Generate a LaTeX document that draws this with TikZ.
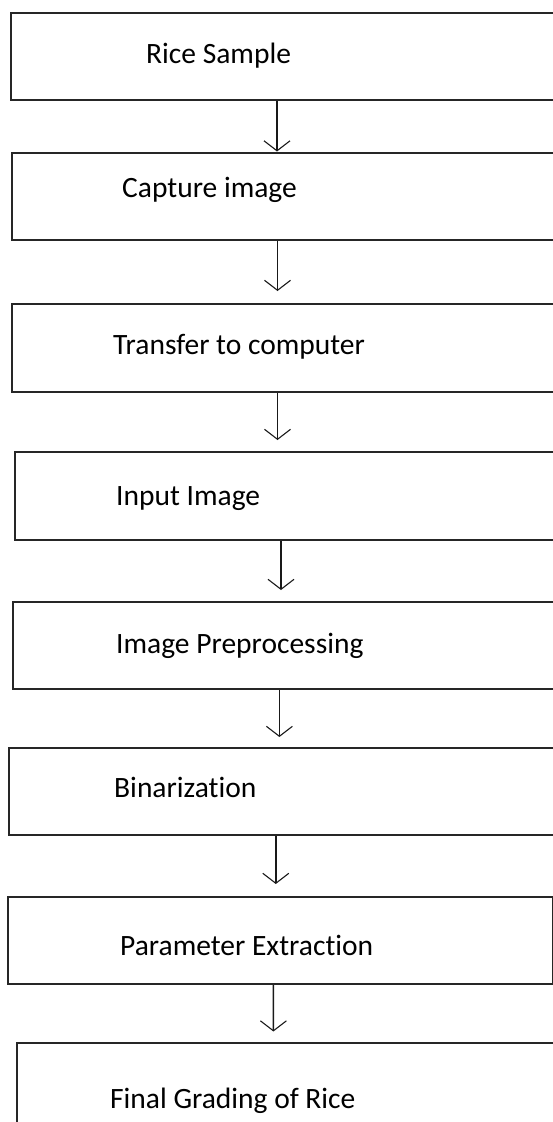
\documentclass[tikz,border=0pt]{standalone}
\usepackage{fontspec}
\setmainfont[Ligatures={NoCommon}]{Carlito}
\usetikzlibrary{arrows.meta}
\begin{document}
\begin{tikzpicture}[x=1pt,y=-1pt,
  stepbox/.style={draw=black!85, line width=2pt, rectangle, inner sep=0pt,
    anchor=north west, minimum width=560pt},
  lbl/.style={anchor=base west, inner sep=0pt,
    font=\fontsize{29.5}{35}\selectfont, text=black},
  flow/.style={draw=black!90, line width=1.4pt,
    -{Straight Barb[length=10pt,width=26pt,line width=1.1pt]}}]
\useasboundingbox (0,0) rectangle (553,1122);
\clip (0,0) rectangle (553,1122);

% process boxes
\node[stepbox, minimum height=87pt]   (b1) at (10,12) {};
\node[stepbox, minimum height=87.5pt] (b2) at (10.5,151.5) {};
\node[stepbox, minimum height=88pt]   (b3) at (10.5,302.5) {};
\node[stepbox, minimum height=88pt]   (b4) at (14,451) {};
\node[stepbox, minimum height=87.5pt] (b5) at (12.3,600.5) {};
\node[stepbox, minimum height=87.5pt] (b6) at (7.8,746.5) {};
\node[stepbox, minimum height=87pt, minimum width=545pt] (b7) at (7,896) {};
\node[stepbox, minimum height=100pt]  (b8) at (15.8,1041.5) {};

% box captions
\node[lbl] (t1) at (146,63)   {Rice Sample};
\node[lbl] (t2) at (122,197)  {Capture image};
\node[lbl] (t3) at (113,354)  {Transfer to computer};
\node[lbl] (t4) at (116,505)  {Input Image};
\node[lbl] (t5) at (116,653)  {Image Preprocessing};
\node[lbl] (t6) at (114,797)  {Binarization};
\node[lbl] (t7) at (120,955)  {Parameter Extraction};
\node[lbl] (t8) at (110,1108) {Final Grading of Rice};

% connectors
\draw[flow] ([xshift=267pt]b1.south west) -- ([xshift=266.5pt]b2.north west);
\draw[flow] ([xshift=267pt]b2.south west) -- ([xshift=267pt,yshift=11.5pt]b3.north west);
\draw[flow] ([xshift=267pt]b3.south west) -- ([xshift=263.5pt,yshift=11pt]b4.north west);
\draw[flow] ([xshift=267pt]b4.south west) -- ([xshift=268.7pt,yshift=10.5pt]b5.north west);
\draw[flow] ([xshift=267.1pt]b5.south west) -- ([xshift=271.6pt,yshift=9.5pt]b6.north west);
\draw[flow] ([xshift=268pt]b6.south west) -- ([xshift=268.8pt,yshift=12pt]b7.north west);
\draw[flow] ([xshift=266.4pt]b7.south west) -- ([xshift=257.6pt,yshift=10pt]b8.north west);
\end{tikzpicture}
\end{document}
